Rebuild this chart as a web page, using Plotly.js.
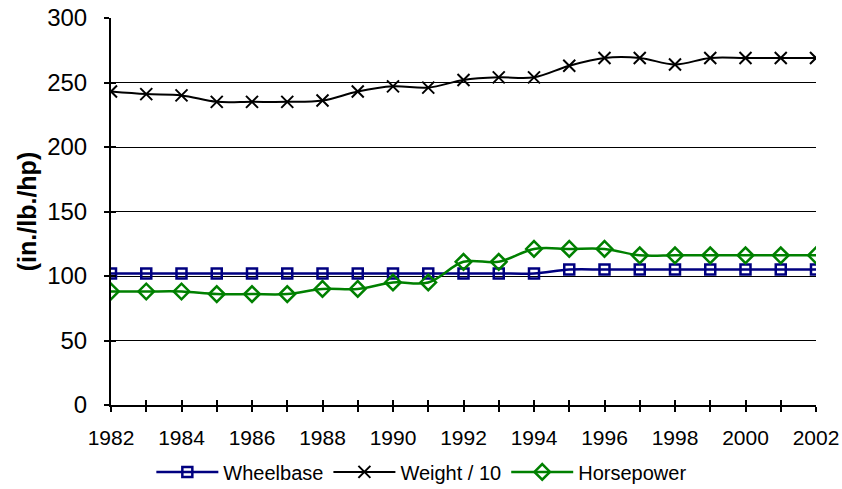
<!DOCTYPE html>
<html>
<head>
<meta charset="utf-8">
<script src="https://cdn.plot.ly/plotly-3.0.1.min.js"></script>
<style>html,body{margin:0;padding:0;background:#fff;}#chart{width:842px;height:489px;}</style>
</head>
<body>
<div id="chart"></div>
<script>
var years = [1982,1983,1984,1985,1986,1987,1988,1989,1990,1991,1992,1993,1994,1995,1996,1997,1998,1999,2000,2001,2002];
var wheelbase = [102,102,102,102,102,102,102,102,102,102,102,102,102,105,105,105,105,105,105,105,105];
var weightDiv10 = [243,241,240,235,235,235,236,243,247,246,252,254,254,263,269,269,264,269,269,269,269];
var horsepower = [88,88,88,86,86,86,90,90,95,95,111,111,121,121,121,116,116,116,116,116,116];
var yTickVals = [0,50,100,150,200,250,300];
var yGridVals = [50,100,150,200,250];
var xTickText = years.map(function(y){ return (y % 2 === 0) ? String(y) : ''; });

var font = 'Liberation Sans, Arial, sans-serif';

var traces = [
  {x: [], y: [], xaxis: 'x', yaxis: 'y3', showlegend: false, hoverinfo: 'skip', type: 'scatter', mode: 'lines'},
  {x: [], y: [], xaxis: 'x2', yaxis: 'y2', showlegend: false, hoverinfo: 'skip', type: 'scatter', mode: 'lines'},
  {x: years, y: wheelbase, name: 'Wheelbase', type: 'scatter', mode: 'lines+markers',
   line: {color: '#000080', width: 2.5, shape: 'spline', smoothing: 1},
   marker: {symbol: 'square-open', size: 10, color: '#000080', line: {width: 2.5, color: '#000080'}}},
  {x: years, y: weightDiv10, name: 'Weight / 10', type: 'scatter', mode: 'lines+markers',
   line: {color: '#000000', width: 2, shape: 'spline', smoothing: 1},
   marker: {symbol: 'x-thin-open', size: 12, color: '#000000', line: {width: 2, color: '#000000'}}},
  {x: years, y: horsepower, name: 'Horsepower', type: 'scatter', mode: 'lines+markers',
   line: {color: '#008000', width: 2.5, shape: 'spline', smoothing: 1},
   marker: {symbol: 'diamond-open', size: 12, color: '#008000', line: {width: 2.5, color: '#008000'}}}
];

var layout = {
  width: 842, height: 489,
  margin: {l: 111, r: 26, t: 18, b: 84},
  paper_bgcolor: '#fff', plot_bgcolor: '#fff',
  font: {family: font, color: '#000'},
  showlegend: true,
  legend: {orientation: 'h', xref: 'container', yref: 'container', x: 0.501, xanchor: 'center', y: 0.035, yanchor: 'middle',
           font: {family: font, size: 20, color: '#000'}, tracegroupgap: 0, itemwidth: 62},
  xaxis: {range: [1982, 2002], tickvals: years, ticktext: xTickText, ticks: 'outside', ticklen: 5,
          tickwidth: 2, tickcolor: '#000', showline: true, linecolor: '#000', linewidth: 2, ticklabelstandoff: 8,
          showgrid: false, zeroline: false, tickfont: {family: font, size: 21, color: '#000'}, automargin: false},
  xaxis2: {overlaying: 'x', range: [1982, 2002], tickvals: years, ticks: 'inside', ticklen: 5,
           tickwidth: 2, tickcolor: '#000', showticklabels: false, showline: false, showgrid: false, zeroline: false},
  yaxis: {range: [0, 300], tickvals: yTickVals, ticks: 'outside', ticklen: 5, tickwidth: 2, tickcolor: '#000',
          showline: true, linecolor: '#000', linewidth: 2, showgrid: false, zeroline: false, ticklabelstandoff: 12,
          tickfont: {family: font, size: 24, color: '#000'}, automargin: false,
          title: {text: '<b>(in./lb./hp)</b>', font: {family: font, size: 25, color: '#000'}, standoff: 3}},
  yaxis2: {overlaying: 'y', range: [0, 300], tickvals: yTickVals, ticks: 'inside', ticklen: 5, tickwidth: 2,
           tickcolor: '#000', showticklabels: false, showline: false, showgrid: false, zeroline: false},
  yaxis3: {overlaying: 'y', range: [0, 300], tickvals: yGridVals, ticks: '', showticklabels: false,
           showline: false, showgrid: true, gridcolor: '#000', gridwidth: 1, zeroline: false, layer: 'below traces'}
};

Plotly.newPlot('chart', traces, layout, {displayModeBar: false, staticPlot: true});
</script>
</body>
</html>
